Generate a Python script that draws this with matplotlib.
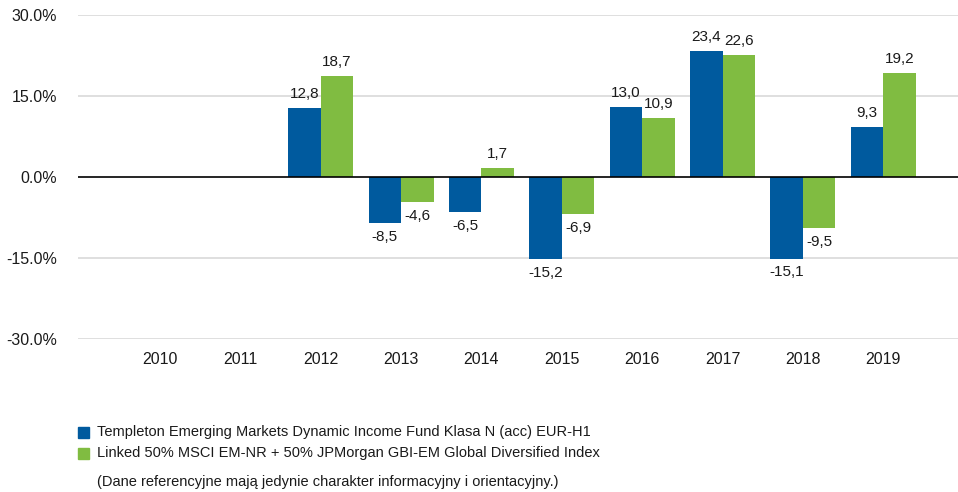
import numpy as np
import matplotlib.pyplot as plt
from matplotlib.patches import Rectangle

plt.rcParams['font.family'] = ['Liberation Sans', 'DejaVu Sans']

years = ['2010', '2011', '2012', '2013', '2014', '2015', '2016', '2017', '2018', '2019']
fund = [None, None, 12.8, -8.5, -6.5, -15.2, 13.0, 23.4, -15.1, 9.3]
bench = [None, None, 18.7, -4.6, 1.7, -6.9, 10.9, 22.6, -9.5, 19.2]
fund_name = 'Templeton Emerging Markets Dynamic Income Fund Klasa N (acc) EUR-H1'
bench_name = 'Linked 50% MSCI EM-NR + 50% JPMorgan GBI-EM Global Diversified Index'
note = '(Dane referencyjne mają jedynie charakter informacyjny i orientacyjny.)'

blue = '#005a9e'
green = '#80bc41'
txt = '#1a1a1a'

fig = plt.figure(figsize=(9.58, 4.92), dpi=100)
ax = fig.add_axes([78 / 958, 1 - 339 / 492, 880 / 958, 324 / 492])

x = np.arange(len(years))
w = 0.405

def draw(vals, offset, color):
    for xi, v in zip(x, vals):
        if v is None:
            continue
        ax.bar(xi + offset, v, w, color=color, zorder=2)
        lbl = f'{v:.1f}'.replace('.', ',')
        if v >= 0:
            ax.annotate(lbl, (xi + offset, v), xytext=(0, 5), textcoords='offset points',
                        ha='center', va='bottom', fontsize=11, color=txt)
        else:
            ax.annotate(lbl, (xi + offset, v), xytext=(0, -5), textcoords='offset points',
                        ha='center', va='top', fontsize=11, color=txt)

draw(fund, -w / 2, blue)
draw(bench, w / 2, green)

ax.set_xlim(-1.02, 9.93)
ax.set_ylim(-30, 30)
ax.set_yticks([-30, -15, 0, 15, 30])
ax.set_yticklabels([f'{t:.1f}%' for t in [-30, -15, 0, 15, 30]], fontsize=11.5, color=txt)
ax.set_xticks(x)
ax.set_xticklabels(years, fontsize=11.5, color=txt)
ax.tick_params(axis='both', length=0)
ax.tick_params(axis='y', pad=15)
ax.tick_params(axis='x', pad=9)
for s in ax.spines.values():
    s.set_visible(False)
for t in [-30, -15, 15, 30]:
    ax.axhline(t, color='#d9d9d9', lw=1.2, zorder=0)
ax.axhline(0, color='black', lw=1.2, zorder=3)

# legend and note below the plot
for i, (name, col) in enumerate([(fund_name, blue), (bench_name, green)]):
    yc = 1 - (432 + i * 21) / 492
    fig.patches.append(Rectangle((78 / 958, yc - 5.5 / 492), 11 / 958, 11 / 492,
                                 transform=fig.transFigure, color=col))
    fig.text(97 / 958, yc, name, fontsize=10.5, va='center', ha='left', color=txt)
fig.text(97 / 958, 1 - 482 / 492, note, fontsize=10.5, va='center', ha='left', color=txt)

fig.savefig('out.png', dpi=100)
